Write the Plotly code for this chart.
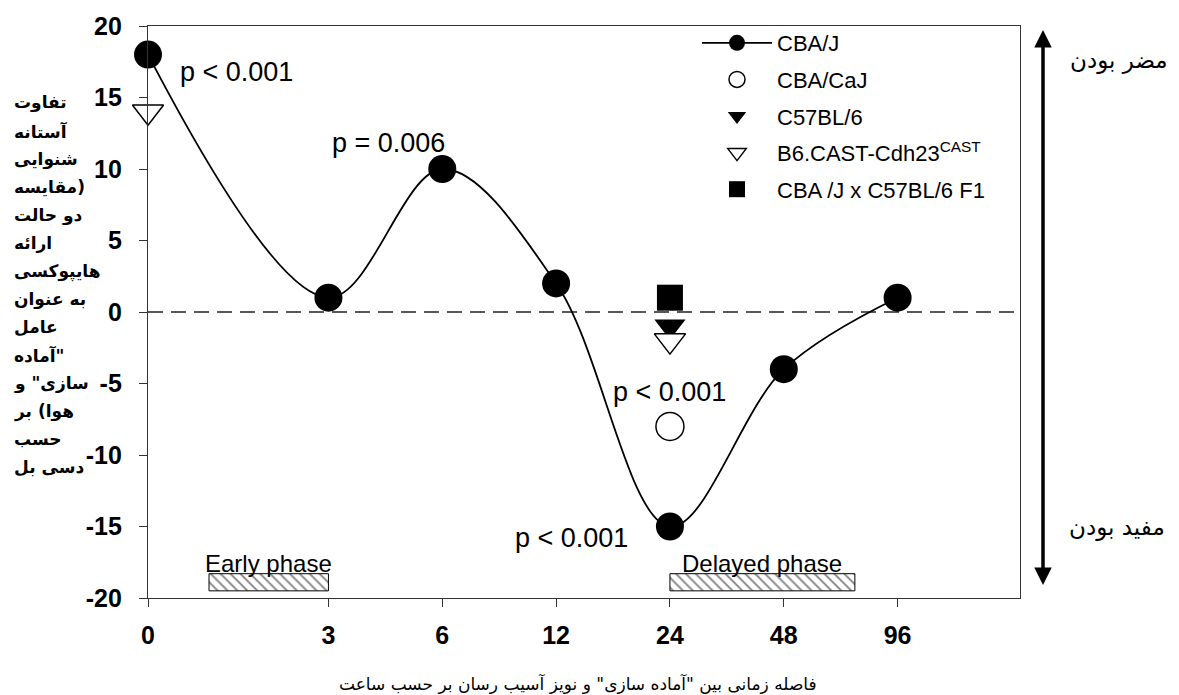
import numpy as np
import plotly.graph_objects as go

# ---------------- data ----------------
hours = [0, 3, 6, 12, 24, 48, 96]
hour_labels = ["0", "3", "6", "12", "24", "48", "96"]

cbaj_h = [0, 3, 6, 12, 24, 48, 96]
cbaj_v = [18, 1, 10, 2, -15, -4, 1]

cbacaj_h = [24]
cbacaj_v = [-8]

c57_h = [24]
c57_v = [-1]

b6cast_h = [0, 24]
b6cast_v = [14, -2]

f1_h = [24]
f1_v = [1]

y_ticks = [-20, -15, -10, -5, 0, 5, 10, 15, 20]
y_tick_labels = ["-20", "-15", "-10", "-5", "0", "5", "10", "15", "20"]

phase_names = ["Early phase", "Delayed phase"]
phase_start_h = [1.45, 24]
phase_end_h = [3, 74]

p_texts = ["p < 0.001", "p = 0.006", "p < 0.001", "p < 0.001"]

series_names = ["CBA/J", "CBA/CaJ", "C57BL/6", "B6.CAST-Cdh23<sup>CAST</sup>", "CBA /J x C57BL/6 F1"]

y_title_lines = ["تفاوت", "آستانه", "شنوایی", "(مقایسه", "دو حالت", "ارائه", "هایپوکسی",
                 "به عنوان", "عامل", "\"آماده", "سازی\" و", "هوا) بر", "حسب", "دسی بل"]
x_title = "فاصله زمانی بین \"آماده سازی\" و نویز آسیب رسان بر حسب ساعت"
label_harmful = "مضر بودن"
label_beneficial = "مفید بودن"


# ---------------- helpers ----------------
def pos(h):
    """axis position: equal spacing per doubling, 0 h at the origin"""
    h = np.asarray(h, dtype=float)
    return np.log2(np.maximum(h, 1.0))


RLM = "\u200f"


def rtl(s):
    # right-to-left text: edge punctuation stays on the right side
    return RLM + s + RLM


W, H = 1179, 695
L, R, T, B = 148, 159, 26, 97
PW, PH = W - L - R, H - T - B


def px_x(px):
    return (px - L) / PW


def px_y(py):
    return (H - B - py) / PH


LAT = "Liberation Sans, Arial, sans-serif"
FA = "DejaVu Sans, sans-serif"

fig = go.Figure()

# hatched phase boxes
ps = pos(phase_start_h)
pe = pos(phase_end_h)
fig.add_trace(go.Bar(
    orientation="h", y=[-18.9, -18.9], base=ps, x=pe - ps, width=1.2,
    marker=dict(color="white", line=dict(color="black", width=1),
                pattern=dict(shape="\\", fgcolor="black", bgcolor="white", size=7, solidity=0.25)),
    showlegend=False, hoverinfo="skip"))

fig.add_trace(go.Scatter(
    x=pos(cbaj_h), y=cbaj_v, name=series_names[0], mode="lines+markers",
    line=dict(color="black", width=1.8, shape="spline", smoothing=1.0),
    marker=dict(symbol="circle", size=28, color="black"),
    cliponaxis=False, legendgroup="a"))
fig.add_trace(go.Scatter(
    x=pos(cbacaj_h), y=cbacaj_v, name=series_names[1], mode="markers",
    marker=dict(symbol="circle", size=28, color="white", line=dict(color="black", width=1.5)),
    cliponaxis=False, legendgroup="b"))
fig.add_trace(go.Scatter(
    x=pos(c57_h), y=c57_v, name=series_names[2], mode="markers",
    marker=dict(symbol="triangle-down", size=27, color="black"),
    cliponaxis=False, legendgroup="c"))
fig.add_trace(go.Scatter(
    x=pos(b6cast_h), y=b6cast_v, name=series_names[3], mode="markers",
    marker=dict(symbol="triangle-down", size=27, color="white", line=dict(color="black", width=1.5)),
    cliponaxis=False, legendgroup="d"))
fig.add_trace(go.Scatter(
    x=pos(f1_h), y=f1_v, name=series_names[4], mode="markers",
    marker=dict(symbol="square", size=26, color="black"),
    cliponaxis=False, legendgroup="e"))

# dashed zero line
fig.add_shape(type="line", xref="paper", x0=0, x1=1, yref="y", y0=0, y1=0,
              line=dict(color="#222", width=1.5, dash="15px,8px"), layer="below")

ann = []
# p-values (axis units)
p_pos = [(0.26, 16.8), (1.60, 11.8), (4.07, -5.6), (3.21, -15.8)]
for t, (x, y) in zip(p_texts, p_pos):
    ann.append(dict(x=x, y=y, xref="x", yref="y", text=t, showarrow=False,
                    xanchor="left", yanchor="middle", font=dict(family=LAT, size=27, color="black")))
# phase labels
for name, s, e in zip(phase_names, ps, pe):
    ann.append(dict(x=(s + e) / 2, y=-17.6, xref="x", yref="y", text=name, showarrow=False,
                    xanchor="center", yanchor="middle", font=dict(family=LAT, size=24, color="black")))

# y title (one annotation per line)
for i, line in enumerate(y_title_lines):
    ann.append(dict(x=px_x(12), y=px_y(103 + 28 * i), xref="paper", yref="paper",
                    text="<b>" + rtl(line) + "</b>", showarrow=False,
                    xanchor="left", yanchor="middle", font=dict(family=FA, size=17, color="black")))
# x title
ann.append(dict(x=px_x(578), y=px_y(683), xref="paper", yref="paper", text=rtl(x_title),
                showarrow=False, xanchor="center", yanchor="middle",
                font=dict(family=FA, size=17, color="black")))
# right side labels and arrow
ann.append(dict(x=px_x(1119), y=px_y(60), xref="paper", yref="paper", text=rtl(label_harmful),
                showarrow=False, xanchor="center", yanchor="middle", font=dict(family=FA, size=23, color="black")))
ann.append(dict(x=px_x(1117), y=px_y(527), xref="paper", yref="paper", text=rtl(label_beneficial),
                showarrow=False, xanchor="center", yanchor="middle", font=dict(family=FA, size=23, color="black")))
ann.append(dict(x=px_x(1043), y=px_y(30), xref="paper", yref="paper", text=" ",
                showarrow=True, ax=0, ay=565, arrowside="end+start", arrowhead=2,
                arrowsize=1, arrowwidth=3.5, arrowcolor="black", standoff=0, startstandoff=0))

fig.update_layout(
    width=W, height=H,
    margin=dict(l=L, r=R, t=T, b=B, autoexpand=False),
    paper_bgcolor="white", plot_bgcolor="white",
    barmode="overlay",
    annotations=ann,
    showlegend=True,
    legend=dict(x=px_x(697), y=px_y(22), xanchor="left", yanchor="top",
                font=dict(family=LAT, size=22, color="black"),
                bgcolor="rgba(0,0,0,0)", tracegroupgap=5, itemwidth=70),
    xaxis=dict(range=[0, 7.66], tickmode="array", tickvals=pos(hours), ticktext=hour_labels,
               showgrid=False, zeroline=False, showline=True, linecolor="#333", linewidth=1.3,
               mirror=True, ticks="outside", ticklen=8, tickwidth=1.3, tickcolor="#333",
               tickfont=dict(family=LAT, size=25, color="black", weight="bold"),
               ticklabelstandoff=7),
    yaxis=dict(range=[-20, 20], tickmode="array", tickvals=y_ticks, ticktext=y_tick_labels,
               showgrid=False, zeroline=False, showline=True, linecolor="#333", linewidth=1.3,
               mirror=True, ticks="outside", ticklen=8, tickwidth=1.3, tickcolor="#333",
               tickfont=dict(family=LAT, size=25, color="black", weight="bold"),
               ticklabelstandoff=12),
)

fig.write_html("out.html", config={"displayModeBar": False},
               post_script="document.body.style.margin='0px';document.body.style.overflow='hidden';")
